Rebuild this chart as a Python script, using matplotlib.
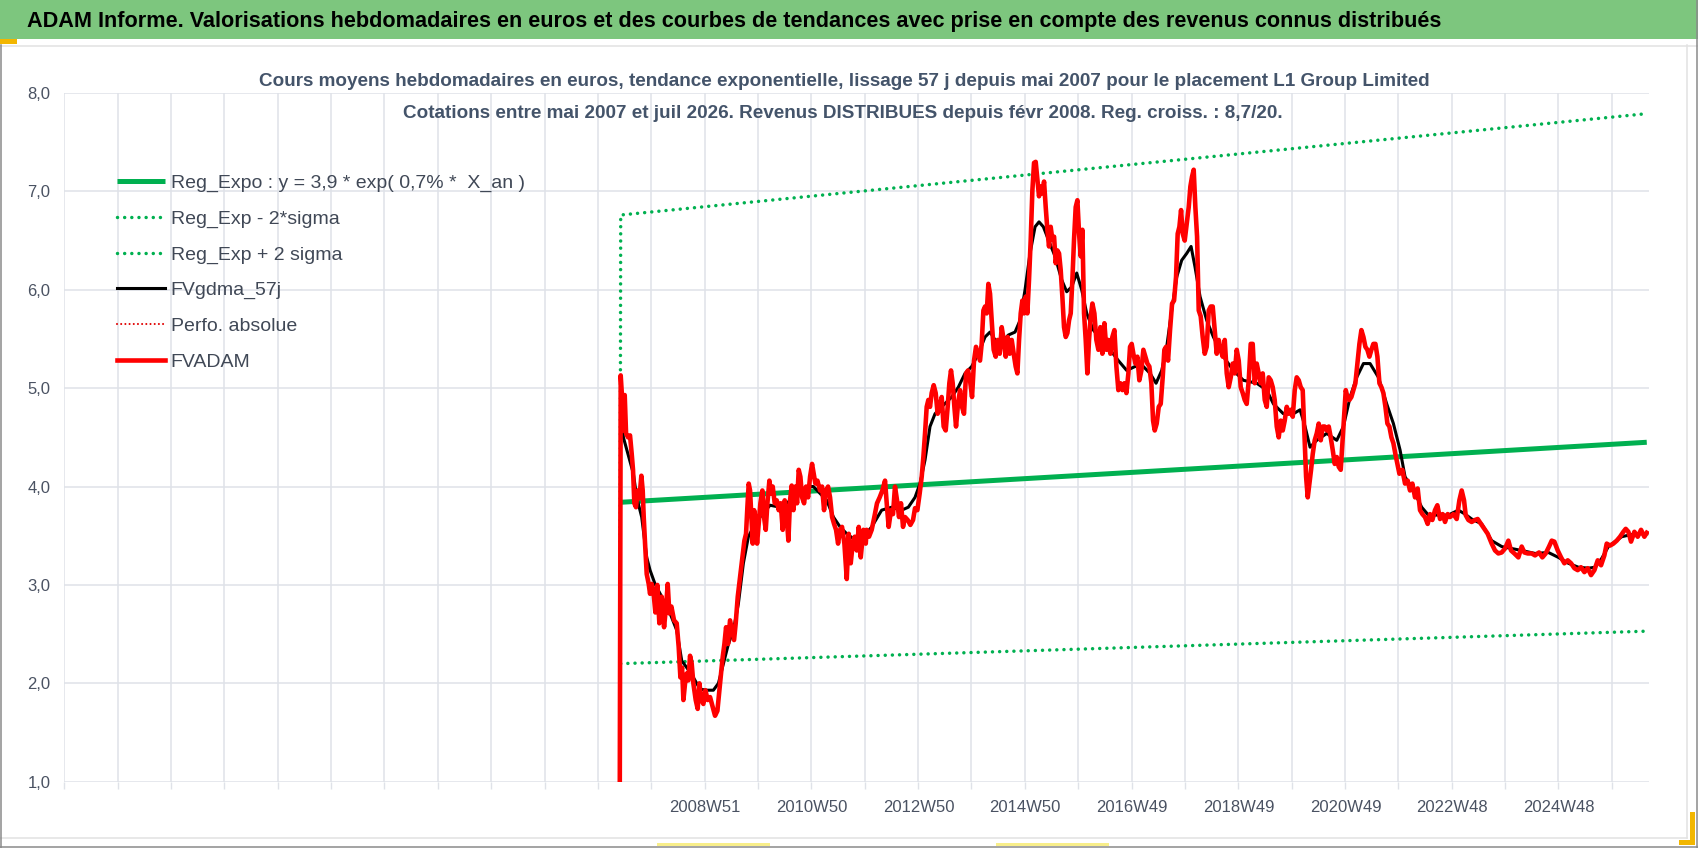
import numpy as np
import pandas as pd
import matplotlib
matplotlib.use("Agg")
import matplotlib.pyplot as plt
from matplotlib import font_manager
from matplotlib.lines import Line2D
from matplotlib.patches import Rectangle

# ---- data (decimal year, value) ----
axis_start = "1996-12-30"      # first weekly category (1997W01)
n_weeks = 1544                 # last category ~ juil 2026

red_yr = [2007.371, 2007.392, 2007.417, 2007.442, 2007.467, 2007.492, 2007.529, 2007.566, 2007.598, 2007.622,
          2007.647, 2007.678, 2007.710, 2007.741, 2007.778, 2007.803, 2007.822, 2007.847, 2007.878, 2007.915,
          2007.940, 2007.971, 2008.002, 2008.040, 2008.077, 2008.114, 2008.158, 2008.202, 2008.239, 2008.270,
          2008.301, 2008.339, 2008.388, 2008.438, 2008.475, 2008.507, 2008.538, 2008.563, 2008.594, 2008.625,
          2008.656, 2008.687, 2008.718, 2008.749, 2008.793, 2008.830, 2008.862, 2008.899, 2008.936, 2008.974,
          2009.017, 2009.061, 2009.111, 2009.154, 2009.198, 2009.235, 2009.266, 2009.298, 2009.329, 2009.360,
          2009.397, 2009.434, 2009.472, 2009.509, 2009.540, 2009.578, 2009.621, 2009.665, 2009.702, 2009.733,
          2009.758, 2009.783, 2009.808, 2009.833, 2009.858, 2009.883, 2009.908, 2009.939, 2009.970, 2010.001,
          2010.038, 2010.069, 2010.101, 2010.132, 2010.169, 2010.200, 2010.231, 2010.269, 2010.306, 2010.343,
          2010.381, 2010.418, 2010.455, 2010.493, 2010.524, 2010.555, 2010.586, 2010.618, 2010.655, 2010.686,
          2010.717, 2010.748, 2010.780, 2010.817, 2010.854, 2010.892, 2010.929, 2010.966, 2010.997, 2011.028,
          2011.066, 2011.115, 2011.153, 2011.190, 2011.228, 2011.265, 2011.302, 2011.340, 2011.377, 2011.414,
          2011.452, 2011.489, 2011.526, 2011.570, 2011.614, 2011.651, 2011.688, 2011.726, 2011.763, 2011.801,
          2011.838, 2011.875, 2011.925, 2011.969, 2011.986, 2012.030, 2012.080, 2012.129, 2012.179, 2012.229,
          2012.279, 2012.329, 2012.366, 2012.397, 2012.441, 2012.478, 2012.515, 2012.553, 2012.590, 2012.627,
          2012.665, 2012.702, 2012.752, 2012.802, 2012.852, 2012.889, 2012.933, 2012.976, 2013.014, 2013.045,
          2013.076, 2013.107, 2013.138, 2013.169, 2013.200, 2013.238, 2013.275, 2013.312, 2013.350, 2013.387,
          2013.424, 2013.462, 2013.499, 2013.530, 2013.561, 2013.593, 2013.624, 2013.655, 2013.692, 2013.730,
          2013.767, 2013.804, 2013.842, 2013.879, 2013.916, 2013.954, 2013.991, 2014.028, 2014.066, 2014.103,
          2014.134, 2014.166, 2014.197, 2014.228, 2014.259, 2014.290, 2014.321, 2014.358, 2014.396, 2014.433,
          2014.471, 2014.508, 2014.545, 2014.583, 2014.620, 2014.657, 2014.695, 2014.732, 2014.769, 2014.801,
          2014.832, 2014.863, 2014.894, 2014.925, 2014.956, 2014.987, 2015.018, 2015.050, 2015.081, 2015.112,
          2015.143, 2015.174, 2015.205, 2015.236, 2015.268, 2015.299, 2015.330, 2015.361, 2015.392, 2015.423,
          2015.454, 2015.486, 2015.517, 2015.548, 2015.579, 2015.610, 2015.641, 2015.672, 2015.704, 2015.735,
          2015.766, 2015.797, 2015.828, 2015.859, 2015.890, 2015.922, 2015.953, 2015.984, 2016.015, 2016.046,
          2016.077, 2016.108, 2016.139, 2016.171, 2016.202, 2016.239, 2016.276, 2016.314, 2016.351, 2016.388,
          2016.426, 2016.463, 2016.500, 2016.538, 2016.575, 2016.613, 2016.650, 2016.687, 2016.725, 2016.762,
          2016.799, 2016.837, 2016.874, 2016.905, 2016.936, 2016.967, 2017.005, 2017.042, 2017.079, 2017.117,
          2017.154, 2017.191, 2017.229, 2017.266, 2017.303, 2017.335, 2017.366, 2017.403, 2017.441, 2017.478,
          2017.515, 2017.546, 2017.577, 2017.615, 2017.652, 2017.690, 2017.727, 2017.764, 2017.795, 2017.827,
          2017.858, 2017.889, 2017.926, 2017.964, 2018.001, 2018.032, 2018.063, 2018.094, 2018.125, 2018.157,
          2018.188, 2018.225, 2018.262, 2018.300, 2018.337, 2018.375, 2018.412, 2018.449, 2018.487, 2018.524,
          2018.561, 2018.599, 2018.636, 2018.674, 2018.711, 2018.748, 2018.786, 2018.823, 2018.860, 2018.898,
          2018.935, 2018.972, 2019.010, 2019.047, 2019.084, 2019.122, 2019.159, 2019.196, 2019.234, 2019.271,
          2019.308, 2019.346, 2019.383, 2019.421, 2019.458, 2019.495, 2019.533, 2019.570, 2019.607, 2019.645,
          2019.682, 2019.719, 2019.757, 2019.794, 2019.832, 2019.869, 2019.906, 2019.944, 2019.981, 2020.018,
          2020.056, 2020.093, 2020.130, 2020.162, 2020.193, 2020.224, 2020.255, 2020.286, 2020.317, 2020.354,
          2020.392, 2020.429, 2020.467, 2020.504, 2020.541, 2020.579, 2020.616, 2020.653, 2020.691, 2020.728,
          2020.766, 2020.803, 2020.840, 2020.872, 2020.903, 2020.934, 2020.965, 2021.002, 2021.039, 2021.077,
          2021.114, 2021.152, 2021.189, 2021.226, 2021.264, 2021.301, 2021.338, 2021.376, 2021.413, 2021.450,
          2021.488, 2021.525, 2021.563, 2021.600, 2021.637, 2021.675, 2021.712, 2021.749, 2021.787, 2021.824,
          2021.861, 2021.899, 2021.936, 2021.991, 2022.041, 2022.091, 2022.134, 2022.178, 2022.228, 2022.277,
          2022.321, 2022.365, 2022.414, 2022.464, 2022.508, 2022.551, 2022.601, 2022.645, 2022.695, 2022.744,
          2022.788, 2022.838, 2022.881, 2022.944, 2023.006, 2023.056, 2023.099, 2023.143, 2023.174, 2023.224,
          2023.286, 2023.348, 2023.398, 2023.460, 2023.523, 2023.585, 2023.660, 2023.722, 2023.784, 2023.847,
          2023.909, 2023.971, 2024.021, 2024.083, 2024.158, 2024.220, 2024.270, 2024.332, 2024.407, 2024.469,
          2024.544, 2024.606, 2024.668, 2024.731, 2024.781, 2024.830, 2024.893, 2024.955, 2025.017, 2025.080,
          2025.142, 2025.204, 2025.266, 2025.328, 2025.391, 2025.453, 2025.515, 2025.578, 2025.640, 2025.702,
          2025.764, 2025.808, 2025.870, 2025.932, 2025.995, 2026.057, 2026.119, 2026.163, 2026.213, 2026.262,
          2026.325, 2026.387, 2026.449, 2026.511, 2026.556]
red_val = [0.0, 5.13, 4.91, 4.57, 4.93, 4.54, 4.50, 4.52, 4.33, 4.17,
           3.83, 3.79, 3.96, 3.88, 4.11, 3.96, 3.69, 3.42, 3.11, 3.01,
           2.91, 3.01, 2.94, 2.72, 3.00, 2.61, 2.88, 2.57, 2.78, 3.01,
           2.71, 2.78, 2.64, 2.61, 2.37, 2.06, 2.16, 1.83, 2.00, 2.10,
           2.03, 2.28, 2.20, 2.00, 1.83, 1.74, 2.00, 1.83, 1.79, 1.93,
           1.83, 1.86, 1.76, 1.67, 1.72, 1.93, 2.10, 2.27, 2.40, 2.57,
           2.40, 2.64, 2.54, 2.44, 2.61, 2.88, 3.08, 3.28, 3.45, 3.52,
           3.79, 4.03, 3.96, 3.69, 3.42, 3.76, 3.69, 3.42, 3.62, 3.83,
           3.96, 3.69, 3.56, 3.83, 4.06, 3.93, 4.00, 3.83, 3.86, 3.76,
           3.83, 3.56, 3.86, 3.69, 3.45, 3.86, 4.01, 3.76, 4.00, 3.83,
           4.17, 4.10, 3.89, 3.83, 4.00, 3.89, 4.10, 4.23, 4.13, 4.03,
           4.06, 3.96, 4.00, 3.76, 3.96, 4.00, 3.89, 3.69, 3.62, 3.56,
           3.42, 3.56, 3.59, 3.42, 3.06, 3.52, 3.22, 3.42, 3.49, 3.35,
           3.59, 3.28, 3.56, 3.42, 3.56, 3.49, 3.56, 3.69, 3.83, 3.89,
           3.96, 4.06, 3.79, 3.59, 3.76, 3.72, 4.00, 3.86, 3.69, 3.83,
           3.59, 3.69, 3.66, 3.61, 3.66, 3.78, 3.76, 3.93, 4.10, 4.30,
           4.54, 4.81, 4.88, 4.81, 4.95, 5.03, 4.95, 4.74, 4.81, 4.91,
           4.61, 4.57, 4.81, 5.05, 5.18, 5.05, 4.81, 4.61, 4.84, 4.98,
           4.81, 4.74, 5.15, 5.18, 5.08, 4.91, 5.28, 5.42, 5.35, 5.28,
           5.45, 5.79, 5.83, 5.76, 6.06, 5.96, 5.69, 5.39, 5.32, 5.49,
           5.35, 5.62, 5.49, 5.32, 5.52, 5.35, 5.49, 5.35, 5.22, 5.15,
           5.49, 5.76, 5.89, 5.76, 5.93, 5.76, 6.10, 6.51, 7.01, 7.29,
           7.30, 7.12, 6.95, 7.05, 6.98, 7.10, 6.84, 6.61, 6.44, 6.64,
           6.51, 6.54, 6.27, 6.40, 6.37, 6.20, 5.93, 5.62, 5.52, 5.56,
           5.69, 5.76, 6.10, 6.51, 6.84, 6.91, 6.57, 6.34, 6.61, 5.76,
           5.49, 5.15, 5.49, 5.73, 5.86, 5.76, 5.49, 5.39, 5.62, 5.35,
           5.66, 5.39, 5.49, 5.35, 5.52, 5.59, 5.22, 4.98, 5.05, 4.98,
           5.05, 4.95, 5.15, 5.42, 5.45, 5.35, 5.25, 5.32, 5.08, 5.18,
           5.39, 5.32, 5.25, 5.22, 5.05, 4.67, 4.57, 4.64, 4.81, 4.84,
           5.11, 5.39, 5.42, 5.28, 5.59, 5.86, 5.89, 6.13, 6.57, 6.64,
           6.81, 6.57, 6.50, 6.67, 6.84, 7.05, 7.15, 7.22, 6.84, 6.54,
           5.79, 5.73, 5.52, 5.35, 5.42, 5.79, 5.83, 5.83, 5.59, 5.35,
           5.49, 5.39, 5.32, 5.49, 5.15, 5.01, 5.11, 5.25, 5.15, 5.39,
           5.28, 5.01, 4.95, 4.88, 4.84, 5.08, 5.45, 5.45, 5.05, 5.25,
           5.15, 5.05, 5.15, 4.88, 4.81, 5.11, 5.08, 5.01, 4.88, 4.61,
           4.50, 4.67, 4.57, 4.67, 4.81, 4.74, 4.78, 4.71, 4.98, 5.11,
           5.08, 5.01, 4.98, 4.54, 4.10, 3.89, 4.03, 4.17, 4.33, 4.47,
           4.54, 4.64, 4.47, 4.61, 4.61, 4.57, 4.61, 4.50, 4.37, 4.23,
           4.30, 4.20, 4.17, 4.44, 4.71, 4.98, 4.91, 4.88, 4.91, 4.98,
           5.05, 5.25, 5.45, 5.59, 5.52, 5.42, 5.39, 5.32, 5.39, 5.45,
           5.45, 5.32, 5.05, 5.01, 4.95, 4.81, 4.64, 4.61, 4.50, 4.44,
           4.33, 4.23, 4.13, 4.17, 4.03, 4.06, 3.96, 4.03, 3.89, 3.98,
           3.76, 3.72, 3.69, 3.62, 3.72, 3.66, 3.76, 3.81, 3.67, 3.72,
           3.64, 3.72, 3.69, 3.72, 3.67, 3.86, 3.96, 3.86, 3.71, 3.66,
           3.64, 3.66, 3.67, 3.62, 3.57, 3.52, 3.42, 3.35, 3.32, 3.33,
           3.37, 3.45, 3.35, 3.32, 3.28, 3.39, 3.33, 3.32, 3.32, 3.30,
           3.33, 3.28, 3.32, 3.39, 3.45, 3.44, 3.35, 3.28, 3.22, 3.25,
           3.22, 3.17, 3.15, 3.18, 3.13, 3.17, 3.10, 3.15, 3.25, 3.20,
           3.30, 3.42, 3.40, 3.42, 3.45, 3.49, 3.54, 3.57, 3.54, 3.44,
           3.54, 3.49, 3.56, 3.49, 3.53]

black_yr = [2007.392, 2007.442, 2007.629, 2007.691, 2007.784, 2007.878, 2007.940, 2008.033, 2008.158, 2008.314,
            2008.438, 2008.532, 2008.625, 2008.749, 2008.874, 2008.999, 2009.123, 2009.217, 2009.310, 2009.404,
            2009.497, 2009.590, 2009.683, 2009.777, 2009.870, 2009.995, 2010.182, 2010.368, 2010.493, 2010.618,
            2010.742, 2010.867, 2010.991, 2011.115, 2011.240, 2011.365, 2011.489, 2011.614, 2011.738, 2011.863,
            2012.080, 2012.266, 2012.453, 2012.640, 2012.764, 2012.889, 2012.982, 2013.076, 2013.169, 2013.263,
            2013.387, 2013.574, 2013.698, 2013.823, 2013.948, 2014.072, 2014.197, 2014.290, 2014.384, 2014.508,
            2014.633, 2014.757, 2014.851, 2014.944, 2015.037, 2015.131, 2015.205, 2015.286, 2015.379, 2015.504,
            2015.629, 2015.722, 2015.816, 2015.909, 2016.002, 2016.096, 2016.220, 2016.376, 2016.532, 2016.687,
            2016.843, 2016.998, 2017.154, 2017.279, 2017.391, 2017.497, 2017.590, 2017.683, 2017.777, 2017.870,
            2017.964, 2018.045, 2018.119, 2018.213, 2018.337, 2018.462, 2018.648, 2018.835, 2019.022, 2019.271,
            2019.458, 2019.583, 2019.769, 2019.956, 2020.081, 2020.174, 2020.267, 2020.392, 2020.579, 2020.766,
            2020.890, 2021.015, 2021.139, 2021.264, 2021.388, 2021.544, 2021.699, 2021.824, 2021.949, 2022.041,
            2022.228, 2022.352, 2022.477, 2022.663, 2022.850, 2023.037, 2023.162, 2023.286, 2023.473, 2023.660,
            2023.847, 2024.033, 2024.220, 2024.469, 2024.718, 2024.905, 2025.092, 2025.279, 2025.466, 2025.590,
            2025.715, 2025.839, 2026.088, 2026.337, 2026.556]
black_val = [4.90, 4.50, 4.13, 3.89, 3.69, 3.28, 3.15, 3.01, 2.88, 2.71,
             2.54, 2.23, 2.16, 2.06, 1.94, 1.93, 1.93, 2.00, 2.20, 2.40,
             2.54, 2.81, 3.22, 3.49, 3.59, 3.69, 3.81, 3.79, 3.83, 3.89,
             3.96, 4.00, 4.00, 3.93, 3.86, 3.69, 3.59, 3.52, 3.47, 3.45,
             3.59, 3.76, 3.79, 3.76, 3.79, 3.89, 4.03, 4.27, 4.61, 4.74,
             4.81, 4.91, 5.01, 5.15, 5.22, 5.35, 5.52, 5.57, 5.49, 5.47,
             5.54, 5.57, 5.69, 6.00, 6.37, 6.64, 6.69, 6.64, 6.51, 6.34,
             6.10, 5.98, 6.03, 6.17, 6.00, 5.76, 5.59, 5.49, 5.39, 5.28,
             5.18, 5.22, 5.22, 5.15, 5.05, 5.18, 5.42, 5.79, 6.13, 6.30,
             6.37, 6.44, 6.23, 5.93, 5.69, 5.52, 5.32, 5.18, 5.08, 5.05,
             4.98, 4.84, 4.74, 4.74, 4.78, 4.61, 4.40, 4.47, 4.54, 4.47,
             4.61, 4.91, 5.11, 5.25, 5.25, 5.11, 4.84, 4.64, 4.37, 4.10,
             3.93, 3.79, 3.71, 3.71, 3.71, 3.76, 3.72, 3.67, 3.62, 3.45,
             3.39, 3.37, 3.35, 3.32, 3.33, 3.28, 3.22, 3.18, 3.17, 3.18,
             3.27, 3.39, 3.49, 3.52, 3.52]

trend_yr = [2007.392, 2026.556]
reg_expo = [3.84, 4.45]
reg_minus = [2.20, 2.53]
upper_yr = [2007.371, 2007.392, 2026.556]
reg_plus = [0.0, 6.76, 7.79]
perfo_yr = []
perfo_val = []

y_ticks = [1, 2, 3, 4, 5, 6, 7, 8]

# ---- fonts ----
avail = {f.name for f in font_manager.fontManager.ttflist}
def pick(*names):
    for n in names:
        if n in avail:
            return n
    return "DejaVu Sans"
narrow = pick("Liberation Sans Narrow", "DejaVu Sans Condensed", "Liberation Sans")
wide = pick("Liberation Sans", "Arimo", "DejaVu Sans")

W, H = 1698, 848
def fx(px):
    return px / W
def fy(py):
    return 1 - py / H

fig = plt.figure(figsize=(W / 100, H / 100), dpi=100)
fig.patch.set_facecolor("white")

# header banner
fig.add_artist(Rectangle((0, fy(39)), 1, 39 / H, transform=fig.transFigure,
                         facecolor="#7dc67e", edgecolor="none"))
fig.text(fx(27), fy(21), "ADAM Informe. Valorisations hebdomadaires en euros et des courbes de tendances "
         "avec prise en compte des revenus connus distribués",
         ha="left", va="center", fontsize=15.6, fontweight="bold", family=narrow, color="black")
fig.add_artist(Rectangle((0, fy(44)), fx(17), 5 / H, transform=fig.transFigure,
                         facecolor="#f2b600", edgecolor="none"))

# chart frame decorations
light = "#e2e2e2"
dark = "#8a8a8a"
for (x0, y0, x1, y1, c) in [(0, 45.5, W, 45.5, light), (1687, 45, 1687, 838, light),
                            (0, 838, 1687, 838, light), (0.8, 45, 0.8, H, dark),
                            (1696.5, 0, 1696.5, H, dark), (0, 846.5, W, 846.5, dark)]:
    fig.add_artist(Line2D([fx(x0), fx(x1)], [fy(y0), fy(y1)], transform=fig.transFigure,
                          color=c, lw=1.1))
for (x0, x1) in [(657, 770), (996, 1109)]:
    fig.add_artist(Rectangle((fx(x0), fy(846)), fx(x1 - x0), 3 / H, transform=fig.transFigure,
                             facecolor="#f8ee8a", edgecolor="none"))
fig.add_artist(Rectangle((fx(1690), fy(845)), fx(5), 33 / H, transform=fig.transFigure,
                         facecolor="#f2b600", edgecolor="none"))
fig.add_artist(Rectangle((fx(1679), fy(845)), fx(16), 5 / H, transform=fig.transFigure,
                         facecolor="#f2b600", edgecolor="none"))

# chart title
title_col = "#44546a"
fig.text(fx(844), fy(82), "Cours moyens hebdomadaires en euros, tendance exponentielle, lissage 57 j depuis mai 2007 "
         "pour le placement L1 Group Limited", ha="center", va="center", fontsize=13.6,
         fontweight="bold", family=wide, color=title_col)
fig.text(fx(843), fy(113), "Cotations entre mai 2007 et juil 2026. Revenus DISTRIBUES depuis févr 2008. "
         "Reg. croiss. : 8,7/20.", ha="center", va="center", fontsize=13.6,
         fontweight="bold", family=wide, color=title_col)

# plot area
left, right, top, bottom = 64.3, 1648.7, 93, 781.7
ax = fig.add_axes([fx(left), fy(bottom), fx(right - left), (bottom - top) / H])
ax.set_facecolor("none")
for s in ax.spines.values():
    s.set_visible(False)

def to_cat(yrs):
    return (np.asarray(yrs, dtype=float) - 1997.0) * 52.176 - 0.5

green = "#00b050"
ax.plot(to_cat(trend_yr), reg_expo, color=green, lw=3.6, solid_capstyle="butt",
        label="Reg_Expo : y = 3,9 * exp( 0,7% *  X_an )")
ax.plot(to_cat(trend_yr), reg_minus, color=green, lw=2.5, linestyle=(0, (0.01, 2.05)),
        dash_capstyle="round", label="Reg_Exp - 2*sigma")
ax.plot(to_cat(upper_yr), reg_plus, color=green, lw=2.5, linestyle=(0, (0.01, 2.05)),
        dash_capstyle="round", label="Reg_Exp + 2 sigma")
ax.plot(to_cat(black_yr), black_val, color="black", lw=2.2, label="FVgdma_57j")
ax.plot(to_cat(perfo_yr), perfo_val, color="#e00000", lw=1.5, linestyle=(0, (0.01, 2.0)),
        dash_capstyle="round", label="Perfo. absolue")
ax.plot(to_cat(red_yr), red_val, color="#ff0000", lw=3.3, solid_joinstyle="round",
        label="FVADAM")

ax.set_xlim(-0.5, n_weeks - 0.5)
ax.set_ylim(1, 8)

grid_col = "#dfe2e8"
weeks = pd.date_range(axis_start, periods=n_weeks, freq="7D")
iso = weeks.isocalendar()
label_pos = np.arange(624, n_weeks, 104)
label_txt = [f"{iso.year.iloc[i]}W{iso.week.iloc[i]}" for i in label_pos]

ax.set_xticks(np.arange(0, n_weeks, 52) - 0.5)
ax.set_xticklabels([])
ax.set_xticks(label_pos, minor=True)
ax.set_xticklabels(label_txt, minor=True)
ax.tick_params(axis="x", which="major", length=5, width=1, color=grid_col)
ax.tick_params(axis="x", which="minor", length=0, pad=13, labelsize=12, labelcolor="#4a5262")
for t in ax.get_xticklabels(minor=True):
    t.set_family(narrow)

ax.set_yticks(y_ticks)
ax.set_yticklabels([f"{v:.1f}".replace(".", ",") for v in y_ticks])
ax.tick_params(axis="y", length=0, pad=10, labelsize=12, labelcolor="#4a5262")
for t in ax.get_yticklabels():
    t.set_family(narrow)

ax.grid(True, which="major", color=grid_col, lw=1.1)
ax.set_axisbelow(True)

leg = ax.legend(loc="upper left", bbox_to_anchor=(fx(117), fy(174)), bbox_transform=fig.transFigure,
                frameon=False, borderpad=0, borderaxespad=0, handlelength=2.47, handletextpad=0.3,
                labelspacing=0.93, prop={"family": narrow, "size": 14})
for t in leg.get_texts():
    t.set_color("#404856")

fig.savefig("out.png", dpi=100, facecolor="white")
